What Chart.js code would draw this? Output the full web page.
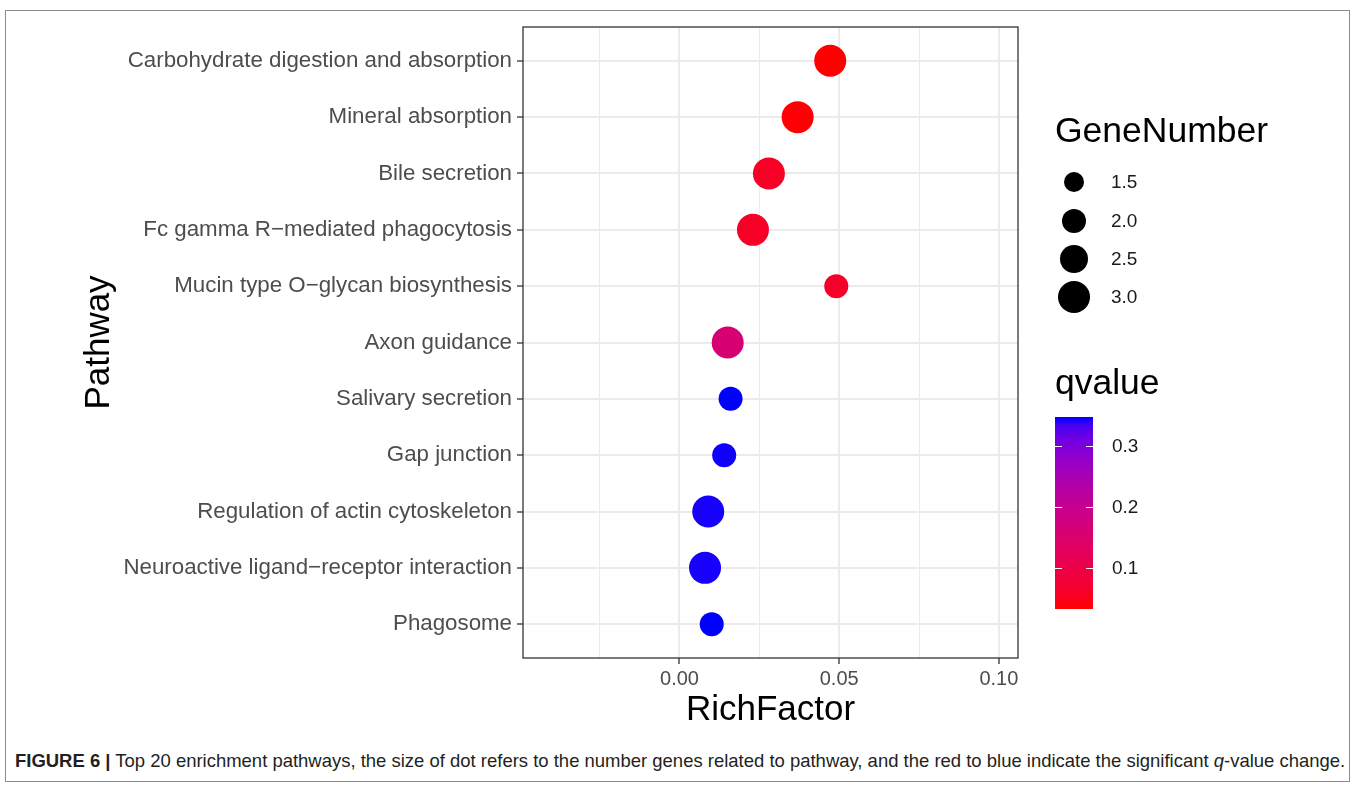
<!DOCTYPE html>
<html>
<head>
<meta charset="utf-8">
<script src="https://cdn.jsdelivr.net/npm/chart.js@4.4.0/dist/chart.umd.min.js"></script>
<style>
body{margin:0;background:#fff;width:1359px;height:787px;position:relative;overflow:hidden;font-family:"Liberation Sans",Arial,Helvetica,sans-serif}
#frame{position:absolute;left:5px;top:10px;width:1345px;height:772px;border:1.5px solid #8a8a8a;box-sizing:border-box}
#wrap{position:absolute;left:0;top:0;width:1359px;height:740px}
.lg{position:absolute;color:#000;white-space:nowrap;line-height:1}
.ttl{font-size:35.5px}
.lab{font-size:19px;color:#1a1a1a}
.dot{position:absolute;background:#000;border-radius:50%}
#bar{position:absolute;left:1055px;top:417px;width:38px;height:192px}
.tk{position:absolute;height:1px;width:7px;background:#fff}
#cap{position:absolute;left:15px;top:751px;font-size:19px;line-height:1;white-space:nowrap;color:#231f20;
  font-family:"Liberation Sans Narrow","Liberation Sans",Arial,sans-serif;transform-origin:left top}
</style>
</head>
<body>
<div id="frame"></div>
<div id="wrap"><canvas id="chart"></canvas></div>
<div id="legend"></div>
<div id="cap"><b>FIGURE 6 |</b> Top 20 enrichment pathways, the size of dot refers to the number genes related to pathway, and the red to blue indicate the significant <i>q</i>-value change.</div>
<script>
// pathways from top to bottom
const pathways = ['Carbohydrate digestion and absorption', 'Mineral absorption', 'Bile secretion',
    'Fc gamma R\u2212mediated phagocytosis', 'Mucin type O\u2212glycan biosynthesis', 'Axon guidance',
    'Salivary secretion', 'Gap junction', 'Regulation of actin cytoskeleton',
    'Neuroactive ligand\u2212receptor interaction', 'Phagosome'];
const richFactor = [0.0472, 0.0370, 0.0280, 0.0230, 0.0491, 0.0151, 0.0160, 0.0140, 0.0090, 0.0080, 0.0101];
const geneNumber = [3, 3, 3, 3, 2, 3, 2, 2, 3, 3, 2];
const qValue = [0.033, 0.035, 0.060, 0.062, 0.064, 0.160, 0.348, 0.347, 0.346, 0.346, 0.348];

const xMajor = [0, 0.05, 0.10];
const xMinor = [-0.025, 0.025, 0.075];
const sizeBreaks = [1.5, 2.0, 2.5, 3.0];
const qBreaks = [0.1, 0.2, 0.3];

const FONT = '"Liberation Sans", Arial, Helvetica, sans-serif';

function sizeOf(g) { return 4 + 4 * g; }

// red -> blue gradient interpolated in Lab, like ggplot
function toLin(c) { c /= 255; return c <= 0.04045 ? c / 12.92 : Math.pow((c + 0.055) / 1.055, 2.4); }
function toSrgb(c) {
    c = c <= 0.0031308 ? 12.92 * c : 1.055 * Math.pow(Math.max(c, 0), 1 / 2.4) - 0.055;
    return Math.round(Math.max(0, Math.min(1, c)) * 255);
}
const WP = [0.95047, 1, 1.08883];
function rgb2lab(r, g, b) {
    r = toLin(r); g = toLin(g); b = toLin(b);
    const X = (0.4124 * r + 0.3576 * g + 0.1805 * b) / WP[0];
    const Y = 0.2126 * r + 0.7152 * g + 0.0722 * b;
    const Z = (0.0193 * r + 0.1192 * g + 0.9505 * b) / WP[2];
    const f = t => t > 0.008856 ? Math.cbrt(t) : 7.787 * t + 16 / 116;
    return [116 * f(Y) - 16, 500 * (f(X) - f(Y)), 200 * (f(Y) - f(Z))];
}
function lab2rgb(L, a, b) {
    const fy = (L + 16) / 116, fx = fy + a / 500, fz = fy - b / 200;
    const inv = t => t > 0.206893 ? t * t * t : (t - 16 / 116) / 7.787;
    const X = inv(fx) * WP[0], Y = inv(fy), Z = inv(fz) * WP[2];
    const r = 3.2406 * X - 1.5372 * Y - 0.4986 * Z;
    const g = -0.9689 * X + 1.8758 * Y + 0.0415 * Z;
    const bb = 0.0557 * X - 0.2040 * Y + 1.0570 * Z;
    return 'rgb(' + toSrgb(r) + ',' + toSrgb(g) + ',' + toSrgb(bb) + ')';
}
const LOW = rgb2lab(255, 0, 0), HIGH = rgb2lab(0, 0, 255);
const qMin = Math.min(...qValue), qMax = Math.max(...qValue);
function qColor(q) {
    const t = (q - qMin) / (qMax - qMin);
    return lab2rgb(LOW[0] + t * (HIGH[0] - LOW[0]), LOW[1] + t * (HIGH[1] - LOW[1]), LOW[2] + t * (HIGH[2] - LOW[2]));
}

function isMajorX(v) { return xMajor.some(m => Math.abs(m - v) < 1e-9); }

const panelBorder = {
    id: 'panelBorder',
    afterDatasetsDraw(chart) {
        const a = chart.chartArea, c = chart.ctx;
        c.save();
        c.strokeStyle = '#333333';
        c.lineWidth = 1.3;
        c.strokeRect(a.left, a.top, a.right - a.left, a.bottom - a.top);
        c.restore();
    }
};

const bubbleData = pathways.map((p, i) => ({ x: richFactor[i], y: i, r: sizeOf(geneNumber[i]) }));

new Chart(document.getElementById('chart'), {
    type: 'bubble',
    data: {
        datasets: [{
            label: 'pathways',
            data: bubbleData,
            backgroundColor: qValue.map(qColor),
            borderWidth: 0,
            hoverBorderWidth: 0
        }]
    },
    options: {
        responsive: true,
        maintainAspectRatio: false,
        animation: false,
        events: [],
        layout: { padding: { top: 27, right: 341, left: 0, bottom: 0 } },
        plugins: { legend: { display: false }, tooltip: { enabled: false } },
        scales: {
            x: {
                type: 'linear',
                min: -0.049,
                max: 0.106,
                afterBuildTicks: s => { s.ticks = xMinor.concat(xMajor).sort((a, b) => a - b).map(v => ({ value: v })); },
                afterFit: s => { s.height = 82; },
                ticks: {
                    autoSkip: false, maxRotation: 0, padding: 3,
                    color: '#4D4D4D', font: { size: 20, family: FONT },
                    callback: v => isMajorX(v) ? v.toFixed(2) : ''
                },
                grid: {
                    color: '#EBEBEB',
                    lineWidth: ctx => isMajorX(ctx.tick.value) ? 2 : 1,
                    tickLength: 6, tickWidth: 1.3,
                    tickColor: ctx => isMajorX(ctx.tick.value) ? '#333333' : 'rgba(0,0,0,0)'
                },
                border: { display: false },
                title: { display: true, text: 'RichFactor', color: '#000', font: { size: 35, family: FONT, lineHeight: 1.2 }, padding: { top: 0, bottom: 9 } }
            },
            y: {
                type: 'linear',
                reverse: true,
                min: -0.6,
                max: 10.6,
                afterBuildTicks: s => { s.ticks = pathways.map((p, i) => ({ value: i })); },
                afterFit: s => { s.width = 523; },
                ticks: {
                    autoSkip: false, padding: 5,
                    color: '#4D4D4D', font: { size: 22.3, family: FONT },
                    callback: v => pathways[v]
                },
                grid: { color: '#EBEBEB', lineWidth: 2, tickLength: 6, tickWidth: 1.3, tickColor: '#333333' },
                border: { display: false },
                title: { display: true, text: 'Pathway', color: '#000', font: { size: 35, family: FONT, lineHeight: 1.2 }, padding: { top: 78, bottom: 0 } }
            }
        }
    },
    plugins: [panelBorder]
});

// legends
const lg = document.getElementById('legend');
let html = '<div class="lg ttl" style="left:1055px;top:113px">GeneNumber</div>';
const sizeY = [182, 221, 259, 297];
sizeBreaks.forEach((g, i) => {
    const r = sizeOf(g);
    html += '<div class="dot" style="left:' + (1074 - r) + 'px;top:' + (sizeY[i] - r) + 'px;width:' + (2 * r) + 'px;height:' + (2 * r) + 'px"></div>';
    html += '<div class="lg lab" style="left:1111px;top:' + (sizeY[i] - 10) + 'px">' + g.toFixed(1) + '</div>';
});
html += '<div class="lg ttl" style="left:1055px;top:365px">qvalue</div>';
const stops = [];
for (let k = 0; k <= 20; k++) stops.push(qColor(qMin + (qMax - qMin) * k / 20) + ' ' + (k * 5) + '%');
html += '<div id="bar" style="background:linear-gradient(to top,' + stops.join(',') + ')"></div>';
qBreaks.forEach(q => {
    const y = 417 + 192 - (q - qMin) / (qMax - qMin) * 192;
    html += '<div class="tk" style="left:1055px;top:' + Math.round(y) + 'px"></div>';
    html += '<div class="tk" style="left:1086px;top:' + Math.round(y) + 'px"></div>';
    html += '<div class="lg lab" style="left:1112px;top:' + (y - 10) + 'px">' + q.toFixed(1) + '</div>';
});
lg.innerHTML = html;

const cap = document.getElementById('cap');
cap.style.transform = 'scaleX(' + (1330 / cap.scrollWidth) + ')';
</script>
</body>
</html>
